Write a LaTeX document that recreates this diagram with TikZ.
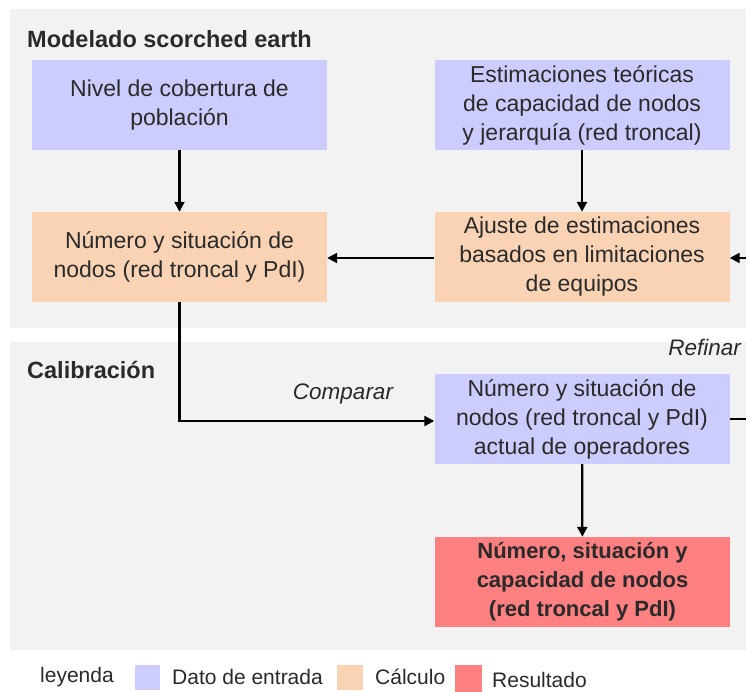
\documentclass[tikz,border=0pt]{standalone}
\usepackage{fontspec}
\setmainfont{Liberation Sans}
\usetikzlibrary{arrows.meta}
\definecolor{inbox}{HTML}{CCCCFF}
\definecolor{calcbox}{HTML}{FAD3B4}
\definecolor{resbox}{HTML}{FF8080}
\definecolor{panel}{HTML}{F2F2F2}
\definecolor{ink}{HTML}{2A2A2A}
\begin{document}
\begin{tikzpicture}[x=1pt,y=-1pt,
  box/.style={minimum width=295pt,minimum height=90pt,inner sep=0pt,align=center,
    font=\fontsize{23}{29}\selectfont,text=ink},
  inp/.style={box,fill=inbox},
  calc/.style={box,fill=calcbox},
  res/.style={box,fill=resbox,font=\fontsize{22}{29}\selectfont\bfseries},
  conn/.style={line width=2.2pt,-{Triangle[length=10pt,width=10pt]}},
  plain/.style={line width=2.2pt},
  title/.style={anchor=west,font=\fontsize{23.5}{26}\selectfont\bfseries,inner sep=0pt,text=ink},
  lbl/.style={font=\fontsize{22.5}{26}\selectfont\itshape,inner sep=0pt,text=ink},
  leg/.style={anchor=west,font=\fontsize{21}{24}\selectfont,inner sep=0pt,text=ink}]
\useasboundingbox (0,0) rectangle (746,692);
\fill[white] (0,0) rectangle (746,692);
\fill[panel] (10,9) rectangle (746,328);
\fill[panel] (10,342) rectangle (746,650);
\node[title] (t1) at (27,39) {Modelado scorched earth};
\node[title] (t2) at (27,370) {Calibración};
\node[inp] (A) at (179.5,105) {Nivel de cobertura de\\población};
\node[inp] (B) at (582,105) {Estimaciones teóricas\\de capacidad de nodos\\y jerarquía (red troncal)};
\node[calc] (C) at (179.5,257) {Número y situación de\\nodos (red troncal y PdI)};
\node[calc] (D) at (582,257) {Ajuste de estimaciones\\basados en limitaciones\\de equipos};
\node[inp] (E) at (582,419) {Número y situación de\\nodos (red troncal y PdI)\\actual de operadores};
\node[res] (F) at (582.5,582) {Número, situación y\\capacidad de nodos\\(red troncal y PdI)};
\coordinate (inR) at (746,258);
\coordinate (outR) at (746,419);
\coordinate (bend) at (179.5,421);
\draw[conn] (A) -- (C);
\draw[conn] (B) -- (D);
\draw[conn] (D.west |- 0,258) -- (C.east |- 0,258);
\draw[conn] (inR) -- (inR -| D.east);
\draw[plain] (E.east) -- (outR);
\draw[conn] (C.south) -- (bend) -- (bend -| E.west);
\draw[conn] (E) -- (F);
\node[lbl] (cmp) at (343,394) {Comparar};
\node[lbl,anchor=east] (ref) at (741,347) {Refinar};
\node[leg] (l0) at (40,677) {leyenda};
\fill[inbox] (135,665) rectangle (160,690);
\node[leg] (l1) at (172,677) {Dato de entrada};
\fill[calcbox] (337,665) rectangle (363,690);
\node[leg] (l2) at (375,677) {Cálculo};
\fill[resbox] (455,665) rectangle (482,692);
\node[leg] (l3) at (492,680) {Resultado};
\end{tikzpicture}
\end{document}
